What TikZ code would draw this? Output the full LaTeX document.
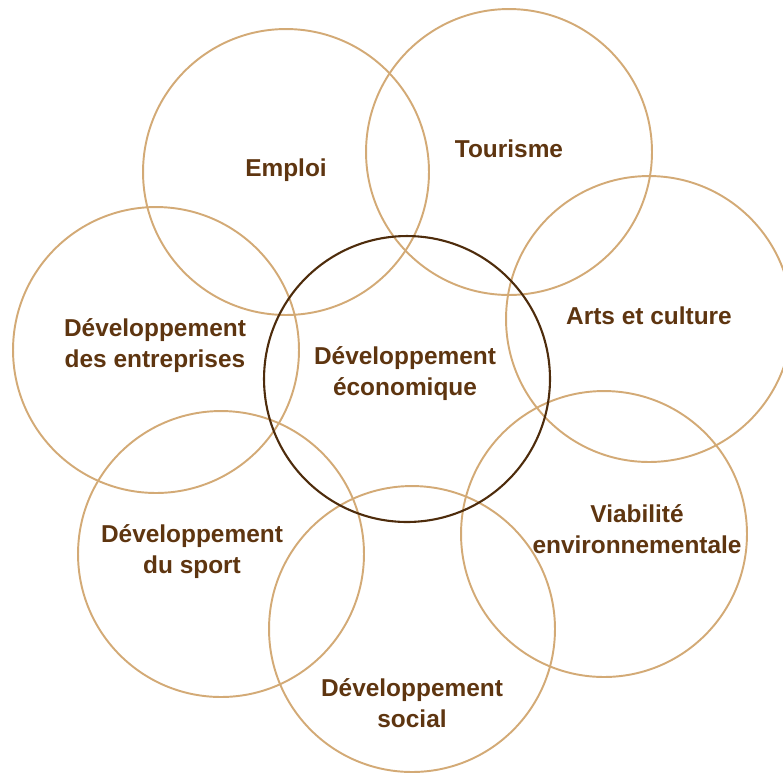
\documentclass[tikz,border=0pt]{standalone}
\usepackage{fontspec}
\setmainfont{Liberation Sans}
\usetikzlibrary{calc}

\definecolor{ringtan}{HTML}{D3AA76}
\definecolor{ringdark}{HTML}{4E2C0C}
\definecolor{labelbrown}{HTML}{5E3510}

\begin{document}
\begin{tikzpicture}[
        x=0.02cm, y=-0.02cm,
        ring/.style={circle, draw=ringtan, line width=1.1pt, minimum size=5.72cm, inner sep=0pt},
        core ring/.style={circle, draw=ringdark, line width=1.2pt, minimum size=5.72cm, inner sep=0pt},
        topic/.style={align=center, text=labelbrown, font=\fontsize{13.9}{17.6}\selectfont\bfseries}]

    \useasboundingbox (0,0) rectangle (783,772);

    % outer rings
    \node[ring] (emploi) at (286,172) {};
    \node[ring] (tourisme) at (509,152) {};
    \node[ring] (arts) at (649,319) {};
    \node[ring] (entreprises) at (156,350) {};
    \node[ring] (viabilite) at (604,534) {};
    \node[ring] (sport) at (221,554) {};
    \node[ring] (social) at (412,629) {};

    % centre ring
    \node[core ring] (economique) at (407,379) {};

    % labels
    \node[topic] (lemploi) at ($(emploi)+(0,-2)$) {Emploi};
    \node[topic] (ltourisme) at ($(tourisme)+(0,-3)$) {Tourisme};
    \node[topic] (larts) at ($(arts)+(0,-3)$) {Arts et culture};
    \node[topic] (lentreprises) at ($(entreprises)+(-1,-4)$) {Développement\\des entreprises};
    \node[topic] (leconomique) at ($(economique)+(-2,-5)$) {Développement\\économique};
    \node[topic] (lviabilite) at ($(viabilite)+(33,-5)$) {Viabilité\\environnementale};
    \node[topic] (lsport) at ($(sport)+(-29,-2)$) {Développement\\du sport};
    \node[topic] (lsocial) at ($(social)+(0,74)$) {Développement\\social};
\end{tikzpicture}
\end{document}
